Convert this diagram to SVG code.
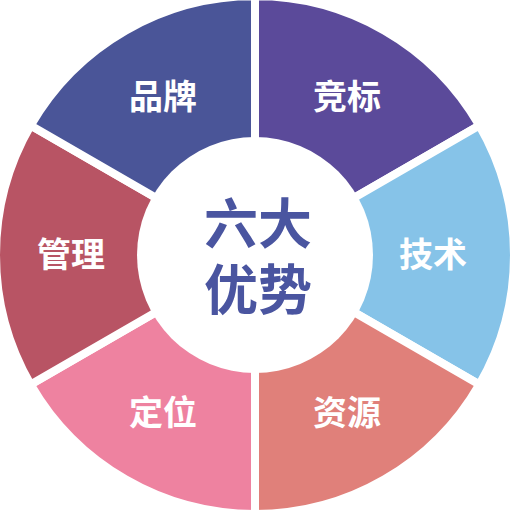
<svg xmlns="http://www.w3.org/2000/svg" width="511" height="511" viewBox="0 0 511 511">
<style>
.seg{stroke:#fff;stroke-width:8;stroke-linejoin:miter}
.lbl{fill:#fff;font-family:"Noto Sans CJK SC","Noto Sans",sans-serif;font-weight:bold;font-size:34px;text-anchor:middle}
.ctr{fill:#4a55a0;font-family:"Noto Sans CJK SC","Noto Sans",sans-serif;font-weight:bold;font-size:54px;text-anchor:middle}
</style>
<rect width="511" height="511" fill="#fff"/>
<g id="jingbiao">
<path class="seg" fill="#5b4a9a" d="M255,255 L255,-4 A259,259 0 0,1 479.3,125.5 Z"/>
<text class="lbl" x="347" y="109">竞标</text>
</g>
<g id="jishu">
<path class="seg" fill="#86c3e8" d="M255,255 L479.3,125.5 A259,259 0 0,1 479.3,384.5 Z"/>
<text class="lbl" x="433" y="267">技术</text>
</g>
<g id="ziyuan">
<path class="seg" fill="#e0807a" d="M255,255 L479.3,384.5 A259,259 0 0,1 255,514 Z"/>
<text class="lbl" x="347" y="425">资源</text>
</g>
<g id="dingwei">
<path class="seg" fill="#ee82a0" d="M255,255 L255,514 A259,259 0 0,1 30.7,384.5 Z"/>
<text class="lbl" x="163" y="425">定位</text>
</g>
<g id="guanli">
<path class="seg" fill="#b85464" d="M255,255 L30.7,384.5 A259,259 0 0,1 30.7,125.5 Z"/>
<text class="lbl" x="71" y="267">管理</text>
</g>
<g id="pinpai">
<path class="seg" fill="#4a5598" d="M255,255 L30.7,125.5 A259,259 0 0,1 255,-4 Z"/>
<text class="lbl" x="163" y="109">品牌</text>
</g>
<g id="center">
<circle cx="255" cy="255" r="118" fill="#fff"/>
<text class="ctr" x="258" y="244">六大</text>
<text class="ctr" x="258" y="310">优势</text>
</g>
</svg>
